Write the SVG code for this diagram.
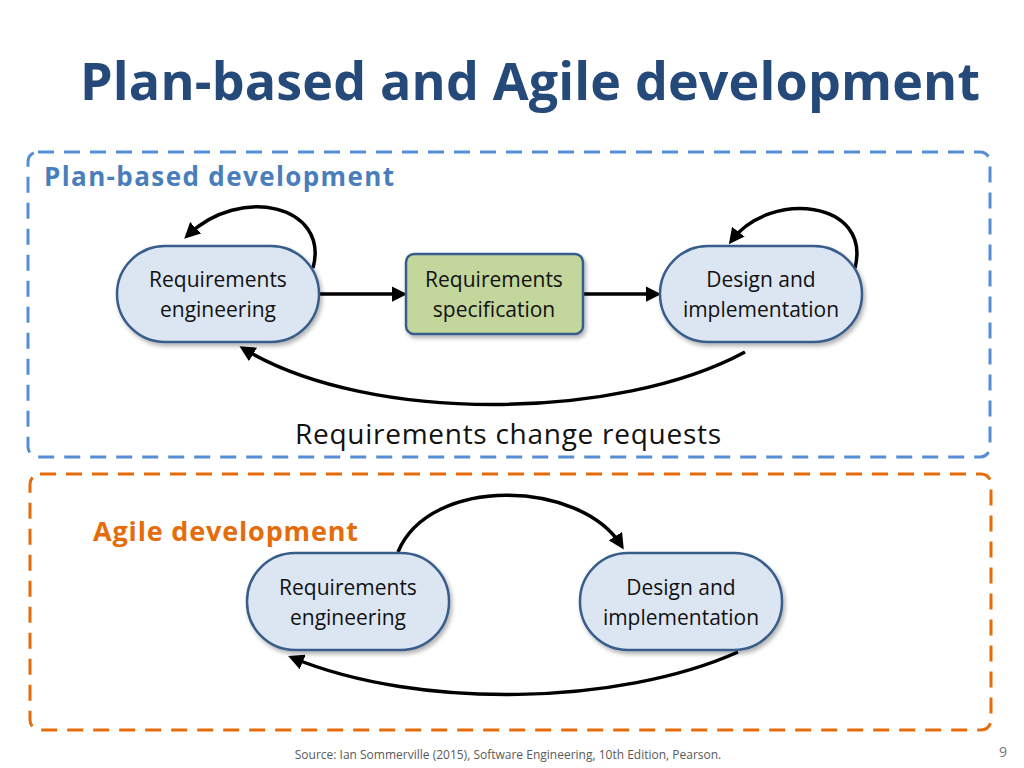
<svg xmlns="http://www.w3.org/2000/svg" width="1024" height="768" viewBox="0 0 1024 768">
<style>
text{font-family:"Open Sans","Liberation Sans",sans-serif}
.n{fill:#dce6f2;stroke:#385d8a;stroke-width:2.5}
.s{fill:#c3d69b;stroke:#385d8a;stroke-width:2.5}
.t{font-size:21px;fill:#111;text-anchor:middle}
.c{fill:none;stroke:#000;stroke-width:3.5;marker-end:url(#a)}
</style>
<defs>
<marker id="a" markerWidth="4.5" markerHeight="4.5" refX="3" refY="2.25" orient="auto"><path d="M0,0L4.5,2.25L0,4.5z" fill="#000"/></marker>
<filter id="sh" x="-10%" y="-10%" width="130%" height="130%"><feDropShadow dx="2" dy="3" stdDeviation="2" flood-opacity="0.3"/></filter>
</defs>
<rect width="1024" height="768" fill="#fff"/>
<text x="80" y="100" font-size="52" font-weight="bold" fill="#254a7a" textLength="900">Plan-based and Agile development</text>
<rect x="28" y="152" width="962" height="305" rx="10" fill="none" stroke="#558ed5" stroke-width="3" stroke-dasharray="16,10"/>
<text x="44" y="186" font-size="26" font-weight="bold" fill="#4a7ebb" textLength="350">Plan-based development</text>
<rect x="30" y="474" width="961" height="256" rx="10" fill="none" stroke="#e46c0a" stroke-width="3" stroke-dasharray="16,10"/>
<text x="93" y="541" font-size="27" font-weight="bold" fill="#e46c0a" textLength="265">Agile development</text>
<g id="connectors">
<path class="c" d="M313,268 C330,205 240,185 188,235"/>
<path class="c" d="M319,294 L402,294"/>
<path class="c" d="M583,294 L656,294"/>
<path class="c" d="M855,268 C872,200 770,190 732,240"/>
<path class="c" d="M745,352 C620,420 370,425 244,349"/>
<path class="c" d="M398,552 C430,475 580,480 621,545"/>
<path class="c" d="M738,652 C620,705 420,710 293,658"/>
</g>
<g id="re1"><rect class="n" filter="url(#sh)" x="117" y="246" width="202" height="96" rx="48"/><text class="t" x="218" y="287">Requirements</text><text class="t" x="218" y="317">engineering</text></g>
<g id="spec"><rect class="s" filter="url(#sh)" x="406" y="254" width="177" height="80" rx="8"/><text class="t" x="494" y="287">Requirements</text><text class="t" x="494" y="317">specification</text></g>
<g id="di1"><rect class="n" filter="url(#sh)" x="660" y="246" width="202" height="96" rx="48"/><text class="t" x="761" y="287">Design and</text><text class="t" x="761" y="317">implementation</text></g>
<text x="508" y="444" font-size="28" fill="#111" text-anchor="middle" textLength="426">Requirements change requests</text>
<g id="re2"><rect class="n" filter="url(#sh)" x="247" y="553" width="202" height="97" rx="48"/><text class="t" x="348" y="595">Requirements</text><text class="t" x="348" y="625">engineering</text></g>
<g id="di2"><rect class="n" filter="url(#sh)" x="580" y="553" width="202" height="97" rx="48"/><text class="t" x="681" y="595">Design and</text><text class="t" x="681" y="625">implementation</text></g>
<text x="508" y="759" font-size="12" fill="#595959" text-anchor="middle">Source: Ian Sommerville (2015), Software Engineering, 10th Edition, Pearson.</text>
<text x="1003" y="757" font-size="14" fill="#777" text-anchor="middle">9</text>
</svg>
